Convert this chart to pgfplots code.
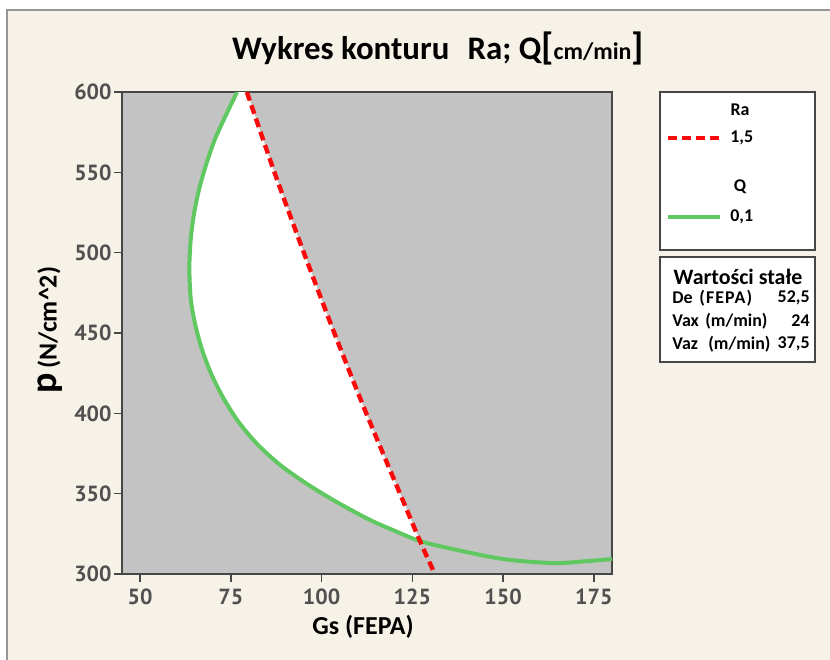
\documentclass[border=0pt]{standalone}
\usepackage{pgfplots}
\pgfplotsset{compat=1.18}
\usepackage{fontspec}
\setmainfont{Carlito}
\newfontfamily\tickfont{PT Sans}
\definecolor{bgbeige}{RGB}{246,242,232}
\definecolor{plotgray}{RGB}{195,195,195}
\definecolor{axisgray}{RGB}{70,70,70}
\definecolor{framegray}{RGB}{150,150,150}
\definecolor{ticktext}{RGB}{80,80,80}
\definecolor{qgreen}{RGB}{96,200,96}
\definecolor{rared}{RGB}{250,10,10}
\begin{document}
\begin{tikzpicture}[x=1bp,y=1bp]
\useasboundingbox (0,0) rectangle (415,330);
\fill[white] (0,0) rectangle (415,330);
\fill[bgbeige] (3.5,0) rectangle (415,325);
\draw[framegray, line width=1bp] (3.5,0) -- (3.5,325) -- (415,325);
\begin{axis}[
  scale only axis, width=245bp, height=241bp,
  at={(61bp,43bp)}, anchor=south west,
  xmin=45, xmax=180, ymin=300, ymax=600,
  xtick={50,75,100,125,150,175},
  ytick={300,350,400,450,500,550,600},
  xtick pos=lower, ytick pos=left,
  tick align=outside, major tick length=4bp,
  axis background/.style={fill=plotgray},
  axis line style={draw=axisgray, line width=1bp},
  tick style={draw=axisgray, line width=0.8bp},
  ticklabel style={font=\tickfont\bfseries\fontsize{11}{12}\selectfont, text=ticktext},
  yticklabel style={inner xsep=1bp},
  /pgf/number format/assume math mode=true,
  /pgf/number format/1000 sep={},
]
% white region between Q=0.1 contour and Ra=1.5 contour
\addplot[fill=white, draw=none] coordinates {
  (76.7,600) (73.5,585) (70.5,570) (68.2,555) (66.3,540) (64.9,525) (64.0,510)
  (63.6,495) (63.6,485) (64.0,470) (65.2,455) (67.0,440) (69.5,425) (72.8,410)
  (77.0,395) (82.2,381) (88.5,368) (96.0,356) (104.0,345) (113.0,334) (120.0,327)
  (127.1,320.5)
  (121.6,350) (112.3,400) (103.5,450) (95.1,500) (87.0,550) (79.4,600)
} -- cycle;
% Q = 0.1
\addplot[qgreen, line width=2bp, smooth, tension=0.5] coordinates {
  (76.7,600) (73.5,585) (70.5,570) (68.2,555) (66.3,540) (64.9,525) (64.0,510)
  (63.6,495) (63.6,485) (64.0,470) (65.2,455) (67.0,440) (69.5,425) (72.8,410)
  (77.0,395) (82.2,381) (88.5,368) (96.0,356) (104.0,345) (113.0,334) (120.0,327)
  (127.1,320.5) (136.2,315.5) (150.0,309.3) (163.7,306.8) (173.1,308.0) (180.0,309.3)
};
% Ra = 1.5
\addplot[rared, line width=2.2bp, dash pattern=on 4.5bp off 2.5bp, smooth, tension=0.5] coordinates {
  (79.4,600) (87.0,550) (95.1,500) (103.5,450) (112.3,400) (121.6,350) (127.1,320.5) (131.2,300)
};
\end{axis}
% title
\node at (219,306) {\bfseries\fontsize{16.5}{18}\selectfont Wykres konturu\hspace{0.55em}Ra; Q{\fontsize{19}{19}\selectfont[}{\fontsize{12}{13}\selectfont cm/min}{\fontsize{19}{19}\selectfont]}};
% axis labels
\node at (181.5,16.5) {\bfseries\fontsize{13}{14}\selectfont Gs (FEPA)};
\node[rotate=90] at (25,165) {\bfseries{\fontsize{19}{19}\selectfont p}{\fontsize{13}{14}\selectfont\,(N/cm\textasciicircum 2)}};
% legend box
\draw[axisgray, line width=1bp, fill=white] (330,205) rectangle (407.5,284);
\node at (370,275) {\bfseries\fontsize{9}{10}\selectfont Ra};
\draw[rared, line width=2bp, dash pattern=on 4.5bp off 2.5bp] (334,261) -- (360,261);
\node[anchor=west, inner xsep=0pt] at (365,261) {\bfseries\fontsize{9}{10}\selectfont 1,5};
\node at (370,236.5) {\bfseries\fontsize{9}{10}\selectfont Q};
\draw[qgreen, line width=2bp] (334,221.5) -- (360,221.5);
\node[anchor=west, inner xsep=0pt] at (365,221.5) {\bfseries\fontsize{9}{10}\selectfont 0,1};
% constants box
\draw[axisgray, line width=1bp, fill=white] (330,149) rectangle (407.5,201.5);
\node at (369,191.5) {\bfseries\fontsize{11}{12}\selectfont Wartości stałe};
\begin{scope}[every node/.style={inner xsep=0pt, font=\bfseries\fontsize{9}{10}\selectfont}]
\node[anchor=west] at (336,181) {De};
\node[anchor=west] at (349.5,181) {\addfontfeature{LetterSpace=6}(FEPA)};
\node[anchor=east] at (405,181) {52,5};
\node[anchor=west] at (336,169.5) {Vax};
\node[anchor=west] at (352.5,169.5) {(m/min)};
\node[anchor=east] at (405,169.5) {24};
\node[anchor=west] at (336,158) {Vaz};
\node[anchor=west] at (354,158) {(m/min)};
\node[anchor=east] at (405,158) {37,5};
\end{scope}
\end{tikzpicture}
\end{document}
